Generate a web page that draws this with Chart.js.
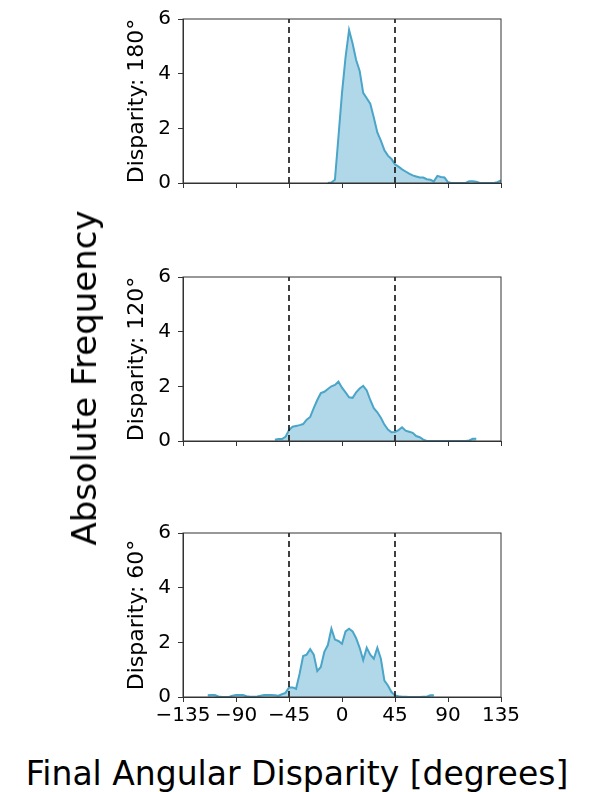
<!DOCTYPE html>
<html>
<head>
<meta charset="utf-8">
<script src="https://cdn.jsdelivr.net/npm/chart.js@4.4.0/dist/chart.umd.min.js"></script>
<style>
    body { margin: 0; background: #fff; }
    .page { position: relative; width: 592px; height: 792px; overflow: hidden; font-family: "DejaVu Sans", sans-serif; }
    .panel { position: absolute; left: 0; width: 592px; height: 223px; }
    .ylab { position: absolute; left: 84px; top: 378px; font-size: 34px; color: #000;
            transform: translate(-50%, -50%) rotate(-90deg); white-space: nowrap; }
    .xlab { position: absolute; left: 297px; top: 773px; font-size: 33px; color: #000;
            transform: translate(-50%, -50%); white-space: nowrap; }
</style>
</head>
<body>
<div class="page">
    <div class="panel" style="top:0px"><canvas id="chart180"></canvas></div>
    <div class="panel" style="top:258px"><canvas id="chart120"></canvas></div>
    <div class="panel" style="top:514px"><canvas id="chart60"></canvas></div>
    <div class="ylab">Absolute Frequency</div>
    <div class="xlab">Final Angular Disparity [degrees]</div>
</div>
<script>
// angle bins (degrees)
const angles = [-135, -132, -129, -126, -123, -120, -117, -114, -111, -108, -105, -102, -99, -96, -93,
    -90, -87, -84, -81, -78, -75, -72, -69, -66, -63, -60, -57, -54, -51, -48,
    -45, -42, -39, -36, -33, -30, -27, -24, -21, -18, -15, -12, -9, -6, -3,
    0, 3, 6, 9, 12, 15, 18, 21, 24, 27, 30, 33, 36, 39, 42,
    45, 48, 51, 54, 57, 60, 63, 66, 69, 72, 75, 78, 81, 84, 87,
    90, 93, 96, 99, 102, 105, 108, 111, 114, 117, 120, 123, 126, 129, 132, 135]

const freq180 = [null, null, null, null, null, null, null, null, null, null, null, null, null, null, null,
    null, null, null, null, null, null, null, null, null, null, null, null, null, null, null,
    null, null, null, null, null, null, null, null, null, null, null, 0, 0.02, 0.12, 1.7,
    3.3, 4.6, 5.6, 5.1, 4.5, 4.1, 3.3, 3.1, 2.9, 2.4, 1.85, 1.55, 1.2, 1.0, 0.88,
    0.68, 0.6, 0.5, 0.42, 0.34, 0.28, 0.24, 0.2, 0.2, 0.14, 0.12, 0.06, 0.26, 0.22, 0.2,
    0.03, 0, 0, 0, 0, 0, 0.06, 0.06, 0.05, 0, 0, 0, 0, 0, 0.03, 0.1]

const freq120 = [null, null, null, null, null, null, null, null, null, null, null, null, null, null, null,
    null, null, null, null, null, null, null, null, null, null, null, 0.05, 0.07, 0.07, 0.15,
    0.4, 0.52, 0.55, 0.58, 0.62, 0.78, 0.88, 1.2, 1.5, 1.75, 1.8, 1.9, 2.0, 2.05, 2.17,
    1.95, 1.78, 1.6, 1.58, 1.78, 1.92, 2.02, 1.85, 1.5, 1.2, 1.05, 0.85, 0.6, 0.42, 0.32,
    0.33, 0.4, 0.5, 0.38, 0.34, 0.3, 0.18, 0.14, 0.05, 0, 0, 0, 0, 0, 0,
    0, 0, 0, 0, 0, 0, 0.02, 0.08, 0.08, null, null, null, null, null, null, null]

const freq60 = [null, null, null, null, null, null, null, 0.06, 0.07, 0.07, 0.02, 0, 0, 0, 0.05,
    0.07, 0.07, 0.07, 0.03, 0.01, 0.01, 0.02, 0.05, 0.07, 0.07, 0.07, 0.06, 0.05, 0.1, 0.15,
    0.35, 0.35, 0.3, 0.85, 1.5, 1.55, 1.75, 1.55, 0.95, 1.1, 1.65, 1.9, 2.5, 2.1, 2.05,
    1.95, 2.4, 2.5, 2.4, 2.15, 1.8, 1.35, 1.8, 1.55, 1.4, 1.8, 1.4, 0.6, 0.42, 0.18,
    0.06, 0.03, 0.01, 0.01, 0, 0, 0, 0, 0.01, 0.01, 0.06, 0.06, null, null, null,
    null, null, null, null, null, null, null, null, null, null, null, null, null, null, null, null]

const xTicks = [-135, -90, -45, 0, 45, 90, 135]
const yTicks = [0, 2, 4, 6]
const guideAngles = [-45, 45]

const lineColor = "#4aa5c9"
const fillColor = "rgba(100, 178, 210, 0.5)"
const axisColor = "#333"

Chart.defaults.font.family = "DejaVu Sans, sans-serif"
Chart.defaults.color = "#000"
Chart.defaults.animation = false

// top and right spines (chart.js only draws the axis borders)
const framePlugin = {
    id: "frame",
    afterDatasetsDraw(chart) {
        const { ctx, chartArea: a } = chart
        ctx.save()
        ctx.strokeStyle = axisColor
        ctx.lineWidth = 1
        ctx.strokeRect(a.left, a.top, a.right - a.left, a.bottom - a.top)
        ctx.restore()
    }
}

function makePanel(id, label, values, showXLabels) {
    const points = angles.map((a, i) => ({ x: a, y: values[i] }))
    const guides = guideAngles.map(g => ({
        data: [{ x: g, y: 0 }, { x: g, y: 6 }],
        borderColor: "#111",
        borderWidth: 1.6,
        borderDash: [6, 4],
        pointRadius: 0,
        fill: false,
        order: 0
    }))
    return new Chart(document.getElementById(id), {
        type: "line",
        data: {
            datasets: [
                ...guides,
                {
                    data: points,
                    borderColor: lineColor,
                    borderWidth: 2,
                    backgroundColor: fillColor,
                    fill: "origin",
                    pointRadius: 0,
                    tension: 0,
                    spanGaps: false,
                    order: 1
                }
            ]
        },
        options: {
            responsive: true,
            maintainAspectRatio: false,
            layout: { padding: { top: 12, right: 91, left: 0, bottom: 0 } },
            plugins: { legend: { display: false }, tooltip: { enabled: false } },
            scales: {
                x: {
                    type: "linear",
                    min: -135,
                    max: 135,
                    afterBuildTicks: s => { s.ticks = xTicks.map(v => ({ value: v })) },
                    afterFit: s => { s.height = 40 },
                    ticks: {
                        font: { size: 20 },
                        color: showXLabels ? "#000" : "rgba(0,0,0,0)",
                        padding: 2,
                        maxRotation: 0,
                        autoSkip: false,
                        callback: v => (v < 0 ? "\u2212" + Math.abs(v) : "" + v)
                    },
                    grid: { drawOnChartArea: false, drawTicks: true, tickLength: 5, color: axisColor },
                    border: { color: axisColor, width: 1 }
                },
                y: {
                    min: 0,
                    max: 6,
                    afterBuildTicks: s => { s.ticks = yTicks.map(v => ({ value: v })) },
                    afterFit: s => { s.width = 183 },
                    ticks: { font: { size: 20 }, padding: 7, autoSkip: false },
                    grid: { drawOnChartArea: false, drawTicks: true, tickLength: 5, color: axisColor },
                    border: { color: axisColor, width: 1 },
                    title: {
                        display: true,
                        text: label,
                        font: { size: 22 },
                        padding: { top: 124, bottom: 0 }
                    }
                }
            }
        },
        plugins: [framePlugin]
    })
}

makePanel("chart180", "Disparity: 180\u00b0", freq180, false)
makePanel("chart120", "Disparity: 120\u00b0", freq120, false)
makePanel("chart60", "Disparity: 60\u00b0", freq60, true)
</script>
</body>
</html>
